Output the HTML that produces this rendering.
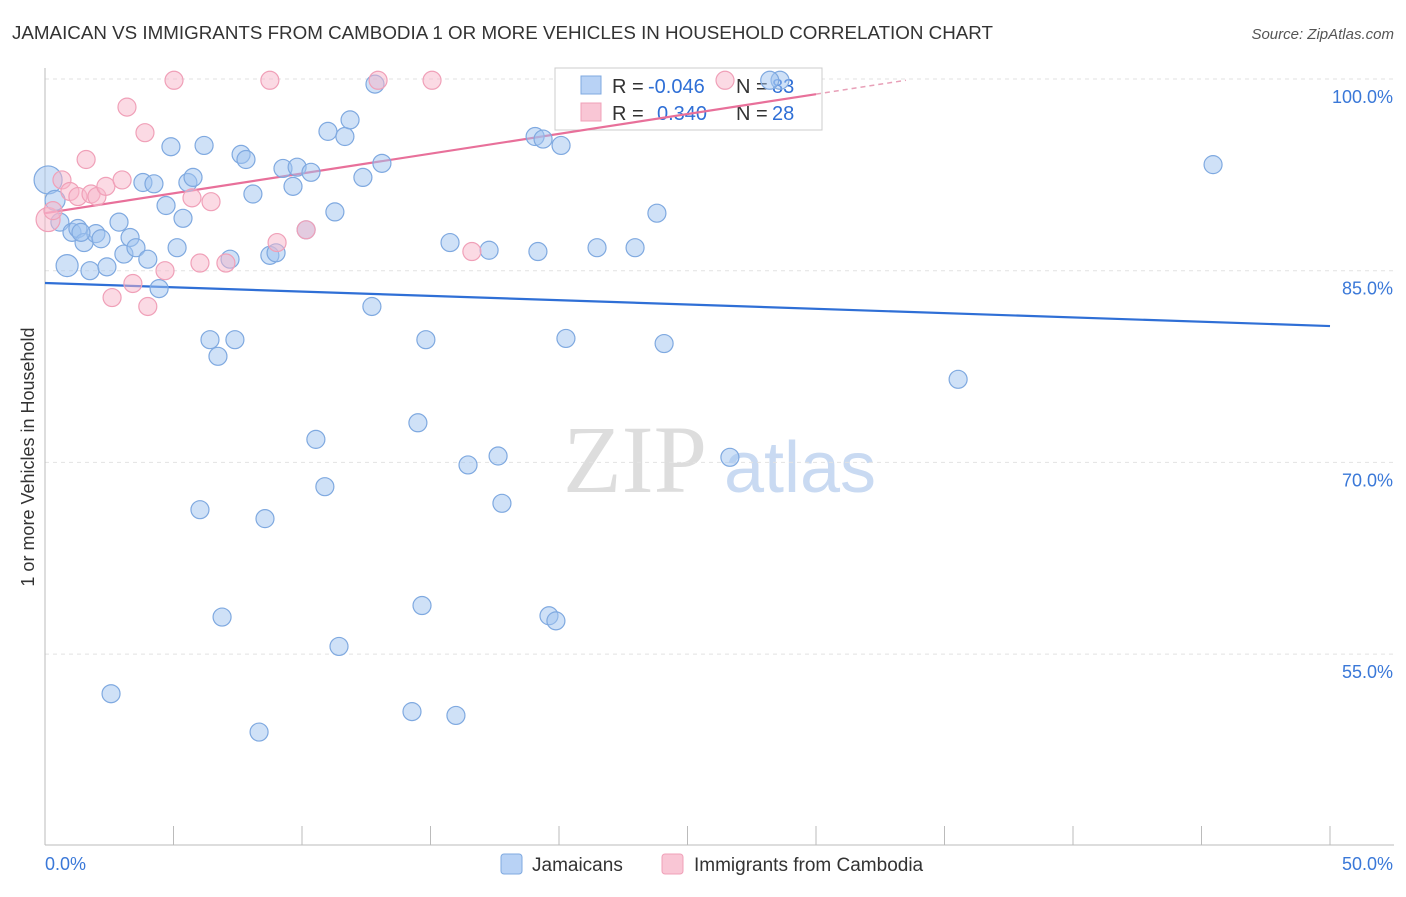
<!DOCTYPE html>
<html><head><meta charset="utf-8"><style>
body{margin:0;background:#fff;font-family:"Liberation Sans",sans-serif;}
</style></head><body>
<svg width="1406" height="892" viewBox="0 0 1406 892" xmlns="http://www.w3.org/2000/svg">
<text x="12" y="39" font-size="18" fill="#333" textLength="981" lengthAdjust="spacingAndGlyphs">JAMAICAN VS IMMIGRANTS FROM CAMBODIA 1 OR MORE VEHICLES IN HOUSEHOLD CORRELATION CHART</text>
<text x="1394" y="39" font-size="15" fill="#555" text-anchor="end" font-style="italic">Source: ZipAtlas.com</text>
<text x="34" y="457" font-size="18" fill="#333" text-anchor="middle" transform="rotate(-90 34 457)">1 or more Vehicles in Household</text>
<g><text x="635" y="492" font-size="96" fill="#ddd" text-anchor="middle" font-family="Liberation Serif,serif">ZIP</text><text x="800" y="492" font-size="72" fill="#c9daf2" text-anchor="middle">atlas</text></g>
<g id="grid"></g><g id="axes"></g>
<g>
<rect x="555" y="68" width="267" height="62" fill="#fff" stroke="#ccc"/>
<rect x="581" y="76" width="20" height="18" fill="#b8d2f5" stroke="#7fa9e0"/>
<text x="612" y="93" font-size="20" fill="#333">R =</text>
<text x="648" y="93" font-size="20" fill="#2f6fd6">-0.046</text>
<text x="736" y="93" font-size="20" fill="#333">N =</text>
<text x="772" y="93" font-size="20" fill="#2f6fd6">83</text>
<rect x="581" y="103" width="20" height="18" fill="#f9c6d5" stroke="#f0a0b8"/>
<text x="612" y="120" font-size="20" fill="#333">R =</text>
<text x="657" y="120" font-size="20" fill="#2f6fd6">0.340</text>
<text x="736" y="120" font-size="20" fill="#333">N =</text>
<text x="772" y="120" font-size="20" fill="#2f6fd6">28</text>
</g>
<g id="lines"></g><g id="pts"></g>
<g>
<rect x="501" y="854" width="21" height="20" rx="3" fill="#b8d2f5" stroke="#7fa9e0"/>
<text x="532" y="871" font-size="19" fill="#333">Jamaicans</text>
<rect x="662" y="854" width="21" height="20" rx="3" fill="#f9c6d5" stroke="#f0a0b8"/>
<text x="694" y="871" font-size="19" fill="#333">Immigrants from Cambodia</text>
</g>
</svg>
<script>
const yTicks=[100,85,70,55];
const yTickLabels=["100.0%","85.0%","70.0%","55.0%"];
const xTickVals=[0,5,10,15,20,25,30,35,40,45,50];
const blueX=[0.12,0.39,0.58,0.86,1.05,1.28,1.52,1.75,1.98,2.18,2.41,2.57,2.88,3.07,3.31,3.54,3.81,4.0,4.24,4.44,4.71,4.9,5.14,5.37,5.56,5.76,6.03,6.19,6.42,6.73,6.89,7.2,7.39,7.63,7.82,8.09,8.33,8.56,8.75,8.99,9.26,9.65,9.81,10.16,10.35,10.54,10.89,11.01,11.28,11.44,11.67,11.87,12.37,12.72,12.84,13.11,14.28,14.51,14.67,14.82,15.76,15.99,16.46,17.28,17.63,17.78,19.07,19.18,19.38,19.61,19.88,20.08,20.27,21.48,22.96,23.81,24.09,26.65,35.53,45.45,28.6,28.2,1.4];
const blueY=[92.1,90.5,88.8,85.4,88.0,88.3,87.2,85.0,87.9,87.5,85.3,51.9,88.8,86.3,87.6,86.8,91.9,85.9,91.8,83.6,90.1,94.7,86.8,89.1,91.9,92.3,66.3,94.8,79.6,78.3,57.9,85.9,79.6,94.1,93.7,91.0,48.9,65.6,86.2,86.4,93.0,91.6,93.1,88.2,92.7,71.8,68.1,95.9,89.6,55.6,95.5,96.8,92.3,82.2,99.6,93.4,50.5,73.1,58.8,79.6,87.2,50.2,69.8,86.6,70.5,66.8,95.5,86.5,95.3,58.0,57.6,94.8,79.7,86.8,86.8,89.5,79.3,70.4,76.5,93.3,99.9,99.9,88.0];
const blueR=[14,10,9,11,9,9,9,9,9,9,9,9,9,9,9,9,9,9,9,9,9,9,9,9,9,9,9,9,9,9,9,9,9,9,9,9,9,9,9,9,9,9,9,9,9,9,9,9,9,9,9,9,9,9,9,9,9,9,9,9,9,9,9,9,9,9,9,9,9,9,9,9,9,9,9,9,9,9,9,9,9,9,9];
const pinkX=[0.12,0.31,0.66,0.97,1.28,1.6,1.79,2.02,2.37,2.61,3.0,3.19,3.42,3.89,4.0,4.67,5.02,5.72,6.03,6.46,7.04,8.75,9.03,10.16,12.96,15.06,16.61,26.46];
const pinkY=[89.0,89.7,92.1,91.2,90.8,93.7,91.0,90.8,91.6,82.9,92.1,97.8,84.0,95.8,82.2,85.0,99.9,90.7,85.6,90.4,85.6,99.9,87.2,88.2,99.9,99.9,86.5,99.9];
const blueTrend=[84.04,80.67];
const pinkTrend=[89.5,99.9,33.5];
const NS="http://www.w3.org/2000/svg";
const X=v=>45+v*25.7, Y=v=>79+(100-v)*12.78;
function mk(t,a,p){const e=document.createElementNS(NS,t);for(const k in a)e.setAttribute(k,a[k]);p.appendChild(e);return e;}
const grid=document.getElementById('grid'),axes=document.getElementById('axes'),lines=document.getElementById('lines'),pts=document.getElementById('pts');
yTicks.forEach((v,i)=>{
 const l=mk('line',{x1:45,x2:1394,y1:Y(v),y2:Y(v),stroke:'#e2e2e2','stroke-dasharray':'4,4'},grid);
 
 
 const t=mk('text',{x:1393,y:Y(v)+24,'font-size':18,fill:'#3a78d8','text-anchor':'end'},axes);t.textContent=yTickLabels[i];
 
 
});
const ya=mk('line',{x1:45,x2:45,y1:68,y2:845,stroke:'#bbb'},axes);


const xa=mk('line',{x1:45,x2:1394,y1:845,y2:845,stroke:'#bbb'},axes);


xTickVals.forEach(v=>{const t=mk('line',{x1:X(v),x2:X(v),y1:826,y2:845,stroke:'#bbb'},axes);
 
 });
const x0=mk('text',{x:45,y:870,'font-size':18,fill:'#3a78d8'},axes);x0.textContent='0.0%';


const x1=mk('text',{x:1393,y:870,'font-size':18,fill:'#3a78d8','text-anchor':'end'},axes);x1.textContent='50.0%';


blueX.forEach((v,i)=>{const c=mk('circle',{cx:X(v),cy:Y(blueY[i]),r:blueR[i]||9,fill:'rgba(160,196,240,0.5)',stroke:'#7fa9e0','stroke-width':1.2},pts);
 
 });
pinkX.forEach((v,i)=>{const c=mk('circle',{cx:X(v),cy:Y(pinkY[i]),r:i==0?12:9,fill:'rgba(248,182,202,0.5)',stroke:'#f0a0b8','stroke-width':1.2},pts);
 
 });
const bl=mk('line',{x1:X(0),y1:Y(blueTrend[0]),x2:X(50),y2:Y(blueTrend[1]),stroke:'#2f6fd6','stroke-width':2.2},lines);


const slope=(pinkTrend[1]-pinkTrend[0])/pinkTrend[2], xs=30;
const pl=mk('line',{x1:X(0),y1:Y(pinkTrend[0]),x2:X(xs),y2:Y(pinkTrend[0]+slope*xs),stroke:'#e8709a','stroke-width':2.2},lines);


const pd=mk('line',{x1:X(xs),y1:Y(pinkTrend[0]+slope*xs),x2:X(pinkTrend[2]),y2:Y(pinkTrend[1]),stroke:'#e8a0b8','stroke-width':1.5,'stroke-dasharray':'5,4'},lines);


</script>
</body></html>
